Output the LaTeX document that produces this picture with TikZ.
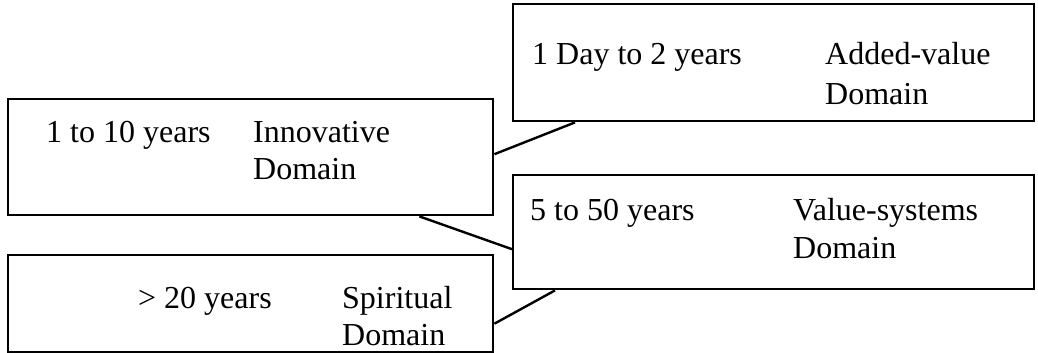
\documentclass[tikz,border=0pt]{standalone}
\usepackage{fontspec}
\setmainfont{Liberation Serif}
\begin{document}
\begin{tikzpicture}[x=1pt,y=-1pt,
  domainbox/.style={draw=black, line width=2.4pt, rectangle, inner sep=0pt, anchor=north west},
  lbl/.style={anchor=base west, inner sep=0pt, text=black, font=\fontsize{32}{38}\selectfont},
  link/.style={draw=black, line width=2.4pt}]
  \useasboundingbox[fill=white] (0,0) rectangle (1038,353);

  % domain boxes
  \node[domainbox, minimum width=521pt, minimum height=117pt] (av) at (512,3) {};
  \node[domainbox, minimum width=485pt, minimum height=116pt] (inn) at (7,98) {};
  \node[domainbox, minimum width=521pt, minimum height=114pt] (vs) at (512,174) {};
  \node[domainbox, minimum width=485pt, minimum height=97pt] (sp) at (7,254) {};

  % added-value domain
  \node[lbl] (avt) at (532,65) {1 Day to 2 years};
  \node[lbl] (avn1) at (825,65) {Added-value};
  \node[lbl] (avn2) at (825,104) {Domain};

  % innovative domain
  \node[lbl] (innt) at (46,142) {1 to 10 years};
  \node[lbl] (innn1) at (253,142) {Innovative};
  \node[lbl] (innn2) at (253,179) {Domain};

  % value-systems domain
  \node[lbl] (vst) at (530,220) {5 to 50 years};
  \node[lbl] (vsn1) at (793,220) {Value-systems};
  \node[lbl] (vsn2) at (793,258) {Domain};

  % spiritual domain
  \node[lbl] (spt) at (138,308) {> 20 years};
  \node[lbl] (spn1) at (342,308) {Spiritual};
  \node[lbl] (spn2) at (342,345) {Domain};

  % connectors
  \draw[link] ([yshift=3pt]inn.east) -- ([xshift=63pt]av.south west);
  \draw[link] ([xshift=-75pt]inn.south east) -- ([yshift=-17pt]vs.west);
  \draw[link] ([yshift=-20pt]sp.east) -- ([xshift=43pt]vs.south west);
\end{tikzpicture}
\end{document}
